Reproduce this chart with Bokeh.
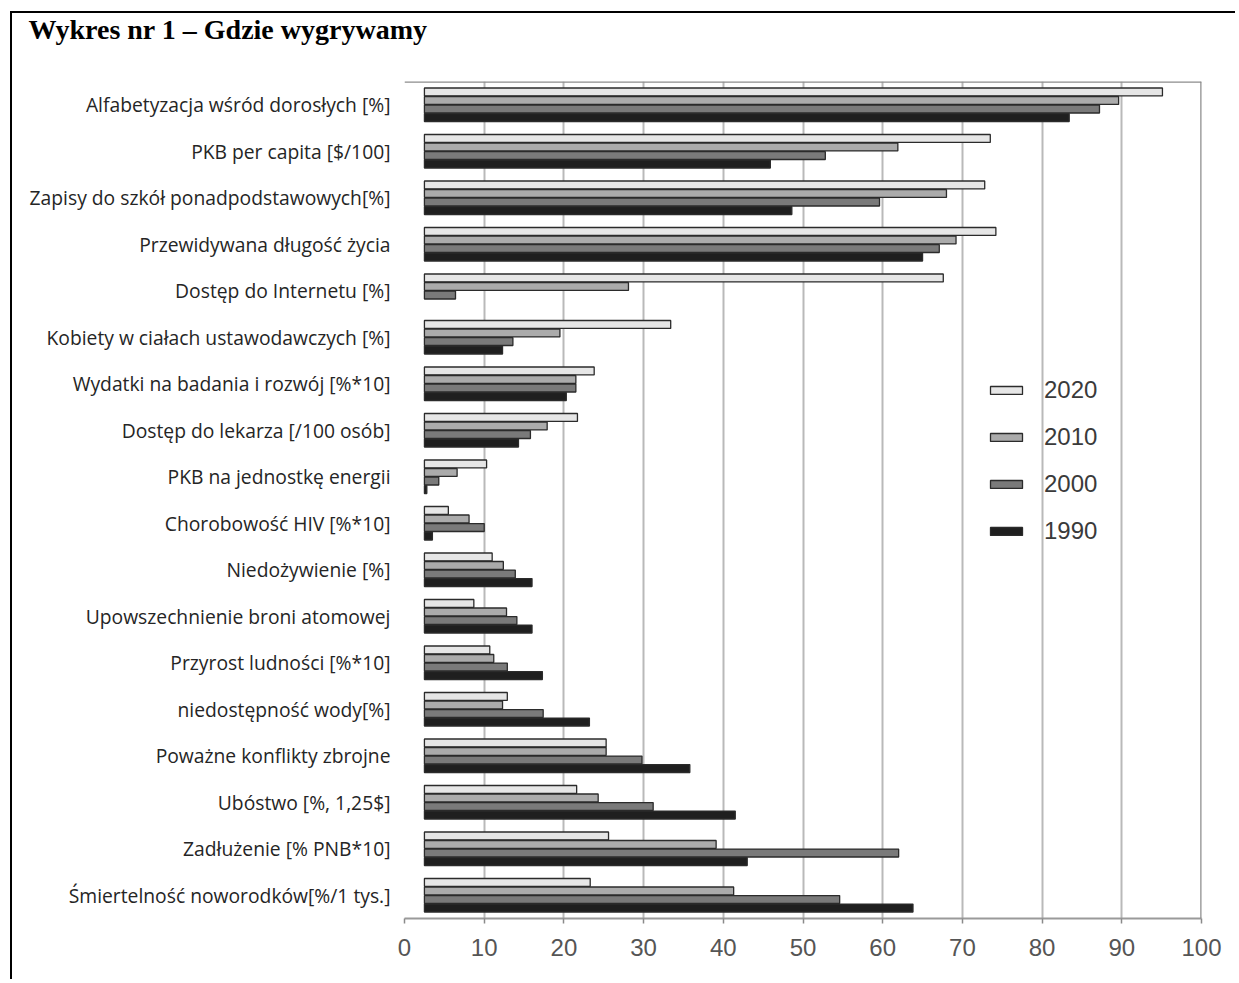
import math
from bokeh.plotting import figure
from bokeh.models import ColumnDataSource, FactorRange, Range1d, FixedTicker, Span
from bokeh.transform import dodge
from bokeh.embed import file_html
from bokeh.resources import INLINE

TITLE = "Wykres nr 1 – Gdzie wygrywamy"

CATEGORIES = [
    "Alfabetyzacja wśród dorosłych [%]",
    "PKB per capita [$/100]",
    "Zapisy do szkół ponadpodstawowych[%]",
    "Przewidywana długość życia",
    "Dostęp do Internetu [%]",
    "Kobiety w ciałach ustawodawczych [%]",
    "Wydatki na badania i rozwój [%*10]",
    "Dostęp do lekarza [/100 osób]",
    "PKB na jednostkę energii",
    "Chorobowość HIV [%*10]",
    "Niedożywienie [%]",
    "Upowszechnienie broni atomowej",
    "Przyrost ludności [%*10]",
    "niedostępność wody[%]",
    "Poważne konflikty zbrojne",
    "Ubóstwo [%, 1,25$]",
    "Zadłużenie [% PNB*10]",
    "Śmiertelność noworodków[%/1 tys.]",
]

YEARS = ["2020", "2010", "2000", "1990"]

V2020 = [95.1, 73.5, 72.8, 74.2, 67.6, 33.4, 23.8, 21.7, 10.3, 5.5, 11.0, 8.7, 10.7, 12.9, 25.3, 21.6, 25.6, 23.3]
V2010 = [89.6, 61.9, 68.0, 69.2, 28.1, 19.5, 21.5, 17.9, 6.6, 8.1, 12.4, 12.8, 11.2, 12.3, 25.3, 24.3, 39.1, 41.3]
V2000 = [87.2, 52.8, 59.6, 67.1, 6.4, 13.6, 21.5, 15.8, 4.3, 10.0, 13.9, 14.1, 12.9, 17.4, 29.8, 31.2, 62.0, 54.6]
V1990 = [83.4, 45.9, 48.6, 65.0, float("nan"), 12.3, 20.3, 14.3, 2.8, 3.5, 16.0, 16.0, 17.3, 23.2, 35.8, 41.5, 43.0, 63.8]

X_TICKS = [0, 10, 20, 30, 40, 50, 60, 70, 80, 90, 100]

# styling
BAR_BASE = 2.5
FILLS = ["#e6e6e6", "#ababab", "#7a7a7a", "#1f1f1f"]
OFFSETS = [0.275, 0.092, -0.092, -0.275]
BAR_H = 0.17

src = ColumnDataSource(dict(cat=CATEGORIES, y2020=V2020, y2010=V2010, y2000=V2000, y1990=V1990))

p = figure(
    width=1225, height=968,
    y_range=FactorRange(factors=list(reversed(CATEGORIES)), range_padding=0),
    x_range=Range1d(X_TICKS[0], X_TICKS[-1]),
    output_backend="svg", toolbar_location=None,
    min_border_left=392, min_border_right=36, min_border_top=67, min_border_bottom=63,
)
p.styles = {"margin-left": "10px", "margin-top": "11px",
            "border-left": "2px solid black", "border-top": "2px solid black"}
p.outline_line_color = None
p.background_fill_color = "white"
p.border_fill_color = "white"

# title (trailing empty line lifts the title towards the top edge)
p.title.text = TITLE + "\n"
p.title.align = "left"
p.title.offset = -376
p.title.text_font = "Liberation Serif"
p.title.text_font_style = "bold"
p.title.text_font_size = "28px"
p.title.text_line_height = 1.12
p.title.text_color = "black"
p.title.vertical_align = "top"
p.title.standoff = 0

for yr, col, off in zip(YEARS, FILLS, OFFSETS):
    p.hbar(y=dodge("cat", off, range=p.y_range), left=BAR_BASE, right="y" + yr, height=BAR_H,
           source=src, fill_color=col, line_color="#2b2b2b", line_width=1.3, legend_label=yr)

# grid
p.ygrid.grid_line_color = None
p.xgrid.ticker = FixedTicker(ticks=X_TICKS[1:])
p.xgrid.grid_line_color = "#b9b9b9"
p.xgrid.grid_line_width = 2

# frame lines (top and right)
p.add_layout(Span(location=len(CATEGORIES), dimension="width", line_color="#8c8c8c", line_width=2.5))
p.add_layout(Span(location=X_TICKS[-1], dimension="height", line_color="#8c8c8c", line_width=2.5))

# x axis
xa = p.xaxis[0]
xa.ticker = FixedTicker(ticks=X_TICKS)
xa.axis_line_color = "#9a9a9a"
xa.axis_line_width = 2
xa.major_tick_line_color = "#8a8a8a"
xa.major_tick_line_width = 1.5
xa.major_tick_out = 5
xa.major_tick_in = 0
xa.minor_tick_line_color = None
xa.major_label_text_font = "Liberation Sans"
xa.major_label_text_font_size = "24px"
xa.major_label_text_color = "#555555"
xa.major_label_standoff = 15

# y axis
ya = p.yaxis[0]
ya.axis_line_color = None
ya.major_tick_line_color = None
ya.major_tick_out = 0
ya.major_tick_in = 0
ya.minor_tick_line_color = None
ya.major_label_text_font = "Open Sans"
ya.major_label_text_font_size = "19.3px"
ya.major_label_text_color = "#252525"
ya.major_label_standoff = 14

# legend
leg = p.legend[0]
leg.location = (582, 373)
leg.border_line_color = None
leg.background_fill_alpha = 0
leg.padding = 0
leg.margin = 0
leg.glyph_width = 40
leg.glyph_height = 10
leg.label_height = 10
leg.spacing = 19
leg.label_standoff = 18
leg.label_text_font = "Liberation Sans"
leg.label_text_font_size = "24px"
leg.label_text_color = "#3a3a3a"

open("out.html", "w").write(file_html(p, INLINE))
